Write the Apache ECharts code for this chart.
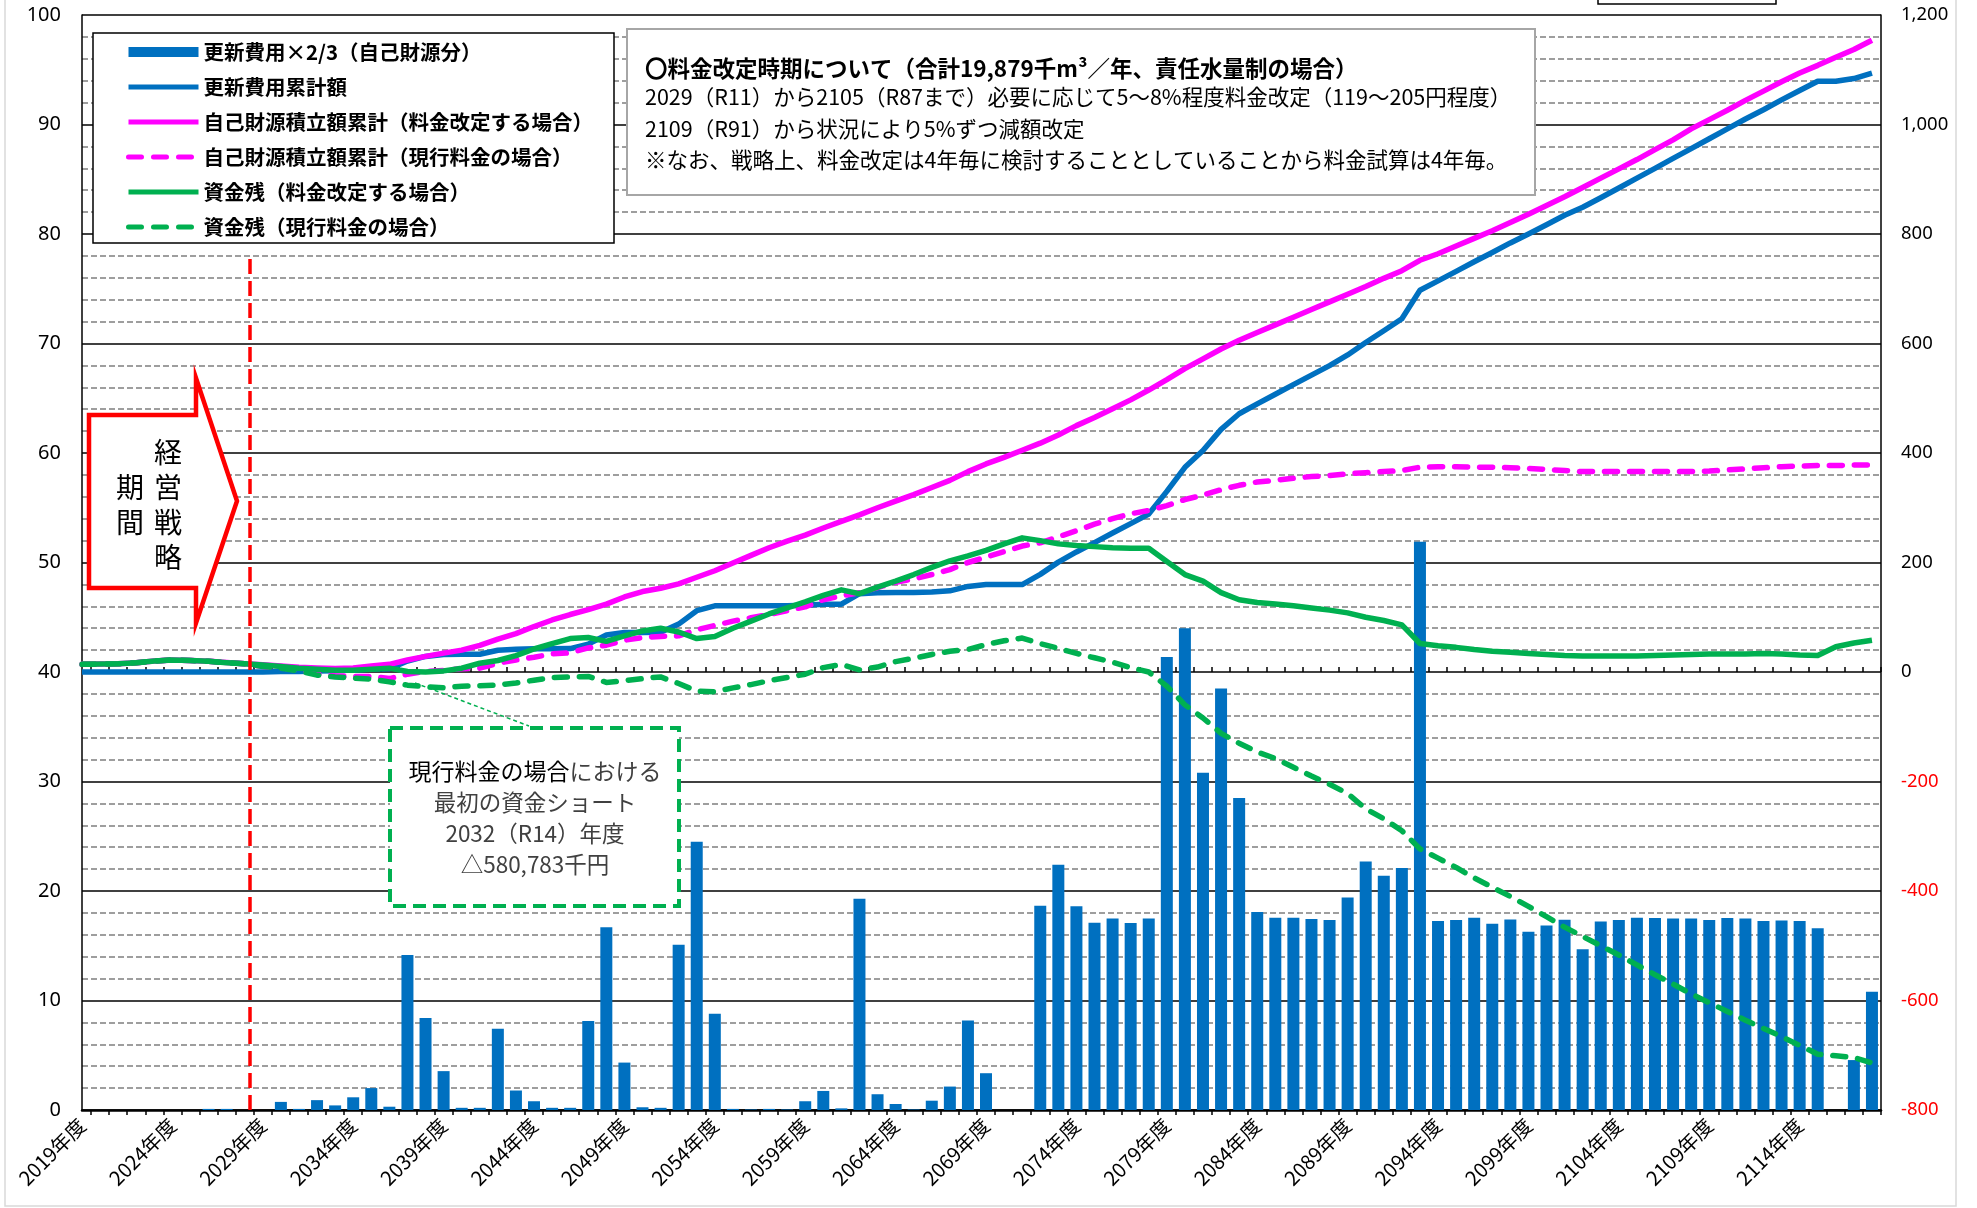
<!DOCTYPE html>
<html><head><meta charset="utf-8">
<script src="https://cdn.jsdelivr.net/npm/echarts@6/dist/echarts.min.js"></script>
<style>html,body{margin:0;padding:0;background:#fff}#c{width:1977px;height:1208px}</style>
</head><body><div id="c"></div>
<script>
// ---- categories (fiscal years) ----
const years = [2019,2020,2021,2022,2023,2024,2025,2026,2027,2028,
 2029,2030,2031,2032,2033,2034,2035,2036,2037,2038,
 2039,2040,2041,2042,2043,2044,2045,2046,2047,2048,
 2049,2050,2051,2052,2053,2054,2055,2056,2057,2058,
 2059,2060,2061,2062,2063,2064,2065,2066,2067,2068,
 2069,2070,2071,2072,2073,2074,2075,2076,2077,2078,
 2079,2080,2081,2082,2083,2084,2085,2086,2087,2088,
 2089,2090,2091,2092,2093,2094,2095,2096,2097,2098,
 2099,2100,2101,2102,2103,2104,2105,2106,2107,2108,
 2109,2110,2111,2112,2113,2114,2115,2116,2117,2118];

const seriesNames = ['更新費用×2/3（自己財源分）','更新費用累計額','自己財源積立額累計（料金改定する場合）','自己財源積立額累計（現行料金の場合）','資金残（料金改定する場合）','資金残（現行料金の場合）'];

// 更新費用×2/3（自己財源分） - left axis
const renewalCost = [0,0,0,0,0,0,0,0.1,0.1,0,
 0,0.74,0.1,0.9,0.42,1.16,2.0,0.3,14.15,8.4,
 3.55,0.2,0.2,7.43,1.78,0.8,0.2,0.2,8.13,16.7,
 4.33,0.25,0.2,15.1,24.5,8.8,0.1,0.05,0.1,0.05,
 0.8,1.74,0.15,19.3,1.44,0.55,0.05,0.85,2.14,8.17,
 3.36,0,0,18.65,22.4,18.6,17.1,17.5,17.07,17.5,
 41.36,44.0,30.8,38.5,28.5,18.08,17.56,17.56,17.44,17.35,
 19.4,22.7,21.4,22.1,51.9,17.25,17.35,17.56,17.0,17.4,
 16.28,16.86,17.38,14.67,17.22,17.35,17.56,17.53,17.5,17.5,
 17.35,17.53,17.5,17.25,17.3,17.25,16.6,0,4.56,10.8];

// 更新費用累計額 - right axis
const cumCost = [0,0,0,0,0,0,0,0.1,0.2,0.2,
 0.2,0.9,1.0,1.9,2.4,3.5,5.5,5.8,20,28.4,
 32,32.2,32.4,39.8,41.6,42.4,42.6,42.8,50.9,67.6,
 72,72.2,72.4,87.5,112,120.8,120.9,121,121.1,121.1,
 121.9,123.7,123.8,143.1,144.6,145.1,145.2,146,148.2,156.3,
 159.7,159.7,159.7,178.3,200.7,219.3,236.4,253.9,271,288.5,
 329.9,373.9,404.7,443.2,471.7,489.8,507.3,524.9,542.3,559.7,
 579.1,601.8,623.2,645.3,697.2,714.4,731.8,749.3,766.3,783.7,
 800,816.9,834.2,848.9,866.1,884,902,920,938,956,
 974,992,1010,1027,1045,1062,1079,1079,1084,1094];

// 自己財源積立額累計（料金改定する場合）
const accumRevised = [14,14.5,15,17,20,22,21,19.6,17.2,15.2,
 13.2,11,8.5,7.5,6.5,7.5,11,14,22,28.5,
 34.5,40,48.5,60,70,83,95,105,114,124,
 137,147,153,161,173,185,199,213,227,239,
 250,263,275,287,300,312,324,337,350,366,
 380,392,405,418,433,450,465,481,497,515,
 534,554,572,590,606,620,634,648,662,676,
 690,704,719,733,752,764,778,792,806,821,
 836,852,868,885,902,919,936,954,972,992,
 1009,1026,1044,1061,1078,1094,1108,1123,1137,1154];

// 自己財源積立額累計（現行料金の場合）
const accumCurrent = [14,14.5,15,17,20,22,21,19.6,17.2,15.2,
 10,8,3,-4,-7,-8,-8,-12,-4,1,
 3,6,7,16,22,27,33,35,44,49,
 58,63,65,66,77,85,93,99,105,112,
 119,132,139,145,154,164,170,178,187,200,
 210,220,230,236,247,258,270,280,289,295,
 304,315,323,333,341,347,350,354,357,359,
 362,364,366,368,374,375,375,374,374,373,
 372,370,368,366,366,366,366,366,366,366,
 367,369,371,373,375,376,377,377,378,378];

// 資金残（料金改定する場合）
const fundRevised = [14,14.5,15,17,20,22,21,19.5,17,15,
 13,10,7,5,3,3,5,7,1,0,
 2,7,16,21,30,42,52,61,63,56,
 66,75,80,73,61,65,80,93,106,117,
 128,140,150,143,155,166,178,191,203,212,
 222,234,245,240,234,231,229,227,226,226,
 202,178,166,145,132,127,124,121,117,113,
 108,100,94,86,52,48,45,41,38,36,
 34,32,30,29,29,29,29,30,31,32,
 33,33,33,34,33,31,30,46,53,58];

// 資金残（現行料金の場合）
const fundCurrent = [14,14.5,15,17,20,22,21,19.5,17,15,
 10,7,2,-5.8,-9,-11,-13,-18,-24,-27,
 -29,-26,-25,-24,-20,-15,-10,-9,-8,-19,
 -16,-12,-9,-21,-35,-36,-29,-23,-16,-10,
 -4,8,14,4,9,19,25,32,38,41,
 50,57,62,52,43,34,26,18,8,0,
 -26,-60,-84,-112,-130,-146,-158,-174,-190,-205,
 -222,-250,-268,-290,-323,-340,-357,-376,-393,-410,
 -428,-447,-466,-483,-500,-517,-535,-553,-570,-588,
 -604,-620,-636,-651,-666,-682,-698,-701,-704,-714];

const leftTicks = {min:0, max:100, interval:10};
const rightTicks = {min:-800, max:1200, interval:200};
const strategyEndPos = 9.3; // 経営戦略期間の終わり (category position)

const infoLines = [
 '〇料金改定時期について（合計19,879千m³／年、責任水量制の場合）',
 '2029（R11）から2105（R87まで）必要に応じて5～8%程度料金改定（119～205円程度）',
 '2109（R91）から状況により5%ずつ減額改定',
 '※なお、戦略上、料金改定は4年毎に検討することとしていることから料金試算は4年毎。'
];
const shortLines = ['最初の資金ショート','2032（R14）年度','△580,783千円'];

// ---- build ----
const FONT = '"Noto Sans CJK JP","Noto Sans",sans-serif';
const NUMFONT = '"Noto Sans","Noto Sans CJK JP",sans-serif';
const pair = arr => arr.map((v, i) => [i, v]);
const tickCats = [];
years.forEach(y => { tickCats.push(y + '年度'); tickCats.push(''); });
const fmt = v => { v = Number(v); const s = Math.abs(v).toString().replace(/\B(?=(\d{3})+(?!\d))/g, ','); return (v < 0 ? '-' : '') + s; };

const chart = echarts.init(document.getElementById('c'));
const lineBase = (name, data, color, dash) => ({
  name, type:'line', xAxisIndex:0, yAxisIndex:1, data: pair(data), symbol:'none', smooth:false,
  lineStyle:{color, width:5.5, type: dash ? [13,12] : 'solid', cap: dash ? 'round' : 'butt', join:'round'},
  itemStyle:{color}, z: 3
});

const graphics = [
  {type:'rect', shape:{x:5, y:-5, width:1951, height:1211}, style:{fill:'none', stroke:'#d9d9d9', lineWidth:1.5}, z:0, silent:true},
  {type:'rect', shape:{x:1598, y:-10, width:178, height:14}, style:{fill:'#fff', stroke:'#000', lineWidth:1.5}, z:10, silent:true},
  {type:'rect', shape:{x:93, y:33, width:521, height:210}, style:{fill:'#fff', stroke:'#000', lineWidth:1.5}, z:10, silent:true},
  {type:'rect', shape:{x:627, y:29, width:908, height:166}, style:{fill:'#fff', stroke:'#a6a6a6', lineWidth:2}, z:10, silent:true},
  {type:'polygon', shape:{points:[[89,415],[196,415],[196,378],[237,501],[196,623],[196,588],[89,588]]}, style:{fill:'#fff', stroke:'#ff0000', lineWidth:4.5}, z:10, silent:true},
  {type:'rect', shape:{x:390, y:728, width:289, height:178}, style:{fill:'#fff', stroke:'#00b050', lineWidth:4, lineDash:[13,7]}, z:10, silent:true},
  {type:'line', shape:{x1:415, y1:683, x2:529, y2:726}, style:{stroke:'#00b050', lineWidth:1.5, lineDash:[4,3]}, z:10, silent:true}
];
const infoY = [68, 97, 129, 160];
infoLines.forEach((t, i) => graphics.push({type:'text', z:11, silent:true,
  style:{text:t, x:645, y:infoY[i], fill:'#000', fontFamily:FONT, fontSize: i===0 ? 22.5 : 21.5, fontWeight: i===0 ? 'bold' : 'normal', verticalAlign:'middle'}}));
// vertical text 経営戦略 / 期間
const colR = '経営戦略', colL = '期間';
[...colR].forEach((ch, i) => graphics.push({type:'text', z:11, silent:true,
  style:{text:ch, x:168, y:452 + i*35, fill:'#000', fontFamily:FONT, fontSize:28, align:'center', verticalAlign:'middle'}}));
[...colL].forEach((ch, i) => graphics.push({type:'text', z:11, silent:true,
  style:{text:ch, x:130, y:487 + i*35, fill:'#000', fontFamily:FONT, fontSize:28, align:'center', verticalAlign:'middle'}}));
graphics.push({type:'text', z:11, silent:true, style:{
  text:'{a|現行料金の場合}{b|における}', x:535, y:771, align:'center', verticalAlign:'middle',
  rich:{a:{fill:'#000', fontFamily:FONT, fontSize:23}, b:{fill:'#404040', fontFamily:FONT, fontSize:23}}}});
shortLines.forEach((t, i) => graphics.push({type:'text', z:11, silent:true,
  style:{text:t, x:535, y:802 + i*31, fill:'#404040', fontFamily:FONT, fontSize:22.5, align:'center', verticalAlign:'middle'}}));

const tickAxis = (inside, labels) => ({
  type:'category', data: tickCats, boundaryGap:false, position:'bottom', gridIndex:0,
  axisLine:{show:false},
  axisTick:{show:true, inside, length:5, interval:(i) => i % 2 === 1, lineStyle:{color:'#000', width:1.5}},
  axisLabel:{show:labels, interval:(i) => i % 10 === 0, rotate:45, margin:12, color:'#000', fontFamily:FONT, fontSize:20},
  splitLine:{show:false}
});

const lineLegendItem = name => ({name, itemStyle:{opacity:0}});

chart.setOption({
  animation:false,
  backgroundColor:'#fff',
  textStyle:{fontFamily:FONT},
  grid:{left:82, right:96, top:15, bottom:98, containLabel:false, outerBoundsMode:'none'},
  legend:{orient:'vertical', left:126, top:41, itemWidth:70, itemHeight:10, itemGap:13, padding:0, z:20,
    selectedMode:false,
    textStyle:{fontFamily:FONT, fontSize:20.5, fontWeight:'bold', color:'#000', lineHeight:22},
    lineStyle:{width:5},
    data:[{name:seriesNames[0], icon:'rect'}, lineLegendItem(seriesNames[1]), lineLegendItem(seriesNames[2]),
          lineLegendItem(seriesNames[3]), lineLegendItem(seriesNames[4]), lineLegendItem(seriesNames[5])]},
  xAxis:[
    {type:'value', min:0, max:years.length - 0.5, position:'bottom',
     axisLine:{show:true, onZero:false, lineStyle:{color:'#000', width:2.5}}, axisTick:{show:false}, axisLabel:{show:false}, splitLine:{show:false}},
    tickAxis(false, true),
    tickAxis(true, false)
  ],
  yAxis:[
    {type:'value', position:'left', min:leftTicks.min, max:leftTicks.max, interval:leftTicks.interval,
     axisLine:{show:true, lineStyle:{color:'#000', width:1.5}}, axisTick:{show:false},
     axisLabel:{color:'#000', fontFamily:NUMFONT, fontSize:20, margin:21},
     splitLine:{show:true, lineStyle:{color:'#000', width:1.5}},
     minorTick:{show:false, splitNumber:5},
     minorSplitLine:{show:true, lineStyle:{color:'#7f7f7f', width:1.5, type:[6,3]}}},
    {type:'value', position:'right', min:rightTicks.min, max:rightTicks.max, interval:rightTicks.interval,
     axisLine:{show:true, onZero:false, lineStyle:{color:'#000', width:1.5}}, axisTick:{show:false},
     axisLabel:{margin:20, fontFamily:NUMFONT, fontSize:18.5, formatter: fmt, color:(v) => Number(v) < 0 ? '#ff0000' : '#000'},
     splitLine:{show:false}}
  ],
  graphic:{elements:graphics},
  series:[
    {name:seriesNames[0], type:'bar', xAxisIndex:0, yAxisIndex:0, data:pair(renewalCost), barWidth:12,
     itemStyle:{color:'#0070c0'}, z:2,
     markLine:{silent:true, symbol:['none','none'], label:{show:false},
       lineStyle:{color:'#ff0000', width:3.5, type:[15,7]},
       data:[[{coord:[strategyEndPos, 0]}, {coord:[strategyEndPos, 77.8]}]]}},
    lineBase(seriesNames[1], cumCost, '#0070c0', false),
    lineBase(seriesNames[2], accumRevised, '#ff00ff', false),
    lineBase(seriesNames[3], accumCurrent, '#ff00ff', true),
    lineBase(seriesNames[4], fundRevised, '#00b050', false),
    lineBase(seriesNames[5], fundCurrent, '#00b050', true)
  ]
});
</script></body></html>
